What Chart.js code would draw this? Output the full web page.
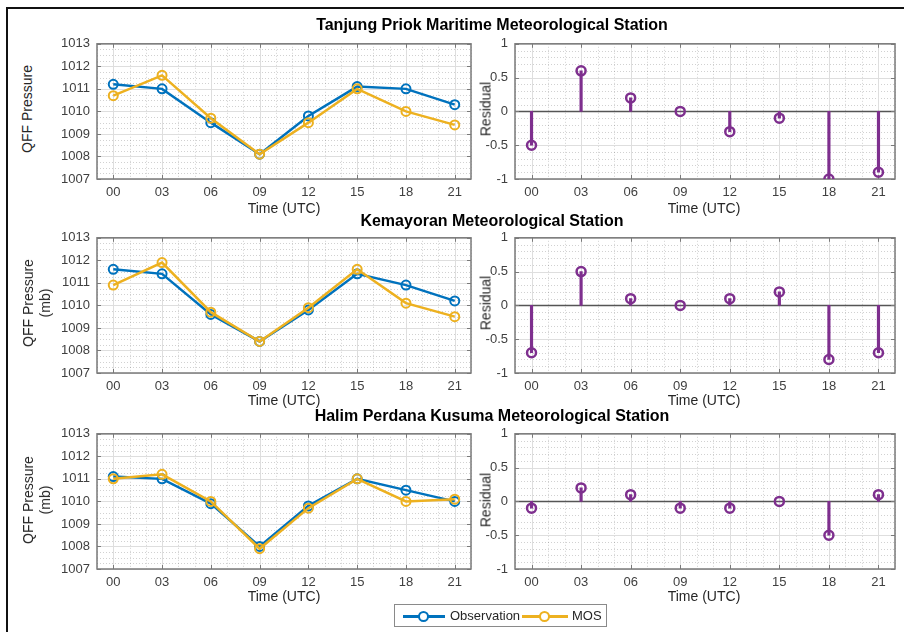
<!DOCTYPE html>
<html>
<head>
<meta charset="utf-8">
<script src="https://cdn.jsdelivr.net/npm/chart.js@4.4.1/dist/chart.umd.min.js"></script>
<style>
body { margin: 0; background: #fff; }
#fig { position: relative; width: 904px; height: 632px; overflow: hidden; background: #fff;
       font-family: "Liberation Sans", Arial, Helvetica, sans-serif; }
#fig canvas { position: absolute; }
.lbl { position: absolute; white-space: nowrap; transform: translate(-50%, -50%); color: #262626; font-size: 14px; }
.rot { transform: translate(-50%, -50%) rotate(-90deg); text-align: center; line-height: 17px; }
.ttl { font-weight: bold; font-size: 16px; color: #000; }
#frameL { position: absolute; left: 6px; top: 8px; width: 1.5px; height: 640px; background: #111; }
#frameT { position: absolute; left: 6px; top: 7px; width: 910px; height: 1.5px; background: #111; }
#legend { position: absolute; left: 394px; top: 604px; width: 211px; height: 21px; border: 1px solid #8a8a8a;
          background: #fff; font-size: 13px; color: #262626; }
#legend .ln { position: absolute; top: 10px; height: 2.5px; }
#legend .mk { position: absolute; top: 6px; width: 7px; height: 7px; border-radius: 50%; border: 2px solid; background: #fff; }
#legend .tx { position: absolute; top: 3px; }
</style>
</head>
<body>
<div id="fig">
  <div id="frameL"></div>
  <div id="frameT"></div>
</div>
<script>
// ---- data ----
var hours = [0, 3, 6, 9, 12, 15, 18, 21];
var hourLabels = ['00', '03', '06', '09', '12', '15', '18', '21'];
var pressureTicks = [1007, 1008, 1009, 1010, 1011, 1012, 1013];
var residualTicks = [-1, -0.5, 0, 0.5, 1];

var stationNames = ['Tanjung Priok Maritime Meteorological Station',
                    'Kemayoran Meteorological Station',
                    'Halim Perdana Kusuma Meteorological Station'];

var obsTanjung = [1011.2, 1011.0, 1009.5, 1008.1, 1009.8, 1011.1, 1011.0, 1010.3];
var mosTanjung = [1010.7, 1011.6, 1009.7, 1008.1, 1009.5, 1011.0, 1010.0, 1009.4];
var resTanjung = [-0.5, 0.6, 0.2, 0.0, -0.3, -0.1, -1.0, -0.9];

var obsKemayoran = [1011.6, 1011.4, 1009.6, 1008.4, 1009.8, 1011.4, 1010.9, 1010.2];
var mosKemayoran = [1010.9, 1011.9, 1009.7, 1008.4, 1009.9, 1011.6, 1010.1, 1009.5];
var resKemayoran = [-0.7, 0.5, 0.1, 0.0, 0.1, 0.2, -0.8, -0.7];

var obsHalim = [1011.1, 1011.0, 1009.9, 1008.0, 1009.8, 1011.0, 1010.5, 1010.0];
var mosHalim = [1011.0, 1011.2, 1010.0, 1007.9, 1009.7, 1011.0, 1010.0, 1010.1];
var resHalim = [-0.1, 0.2, 0.1, -0.1, -0.1, 0.0, -0.5, 0.1];

var seriesNames = ['Observation', 'MOS'];

// ---- styles ----
var blue = '#0072BD', orange = '#EDB120', purple = '#7E2F8E';
var fontFamily = '"Liberation Sans", Arial, Helvetica, sans-serif';
Chart.defaults.font.family = fontFamily;
Chart.defaults.font.size = 13;
Chart.defaults.color = '#404040';

var fig = document.getElementById('fig');

// panel layout (plot area boxes)
var rowTops = [39, 233, 429];
var plotH = 140;
var leftX = [97, 471], rightX = [515, 895];
var padL = 45, padT = 10, padR = 10, padB = 25;

function addLabel(text, cx, cy, cls) {
  var d = document.createElement('div');
  d.className = 'lbl ' + (cls || '');
  d.innerHTML = text;
  d.style.left = cx + 'px';
  d.style.top = cy + 'px';
  fig.appendChild(d);
}

function px(v) { return Math.round(v) + 0.5; }

// MATLAB-like axes: dotted minor grid, solid major grid, box, inner ticks
var matlabAxes = {
  id: 'matlabAxes',
  beforeDatasetsDraw: function (chart, args, opts) {
    var ctx = chart.ctx, a = chart.chartArea, sx = chart.scales.x, sy = chart.scales.y;
    var i, v, p;
    ctx.save();
    ctx.lineWidth = 1;
    // minor grid
    ctx.strokeStyle = 'rgba(0,0,0,0.18)';
    ctx.setLineDash([1, 2]);
    ctx.beginPath();
    for (v = -1; v <= 22; v += 1) {
      if (hours.indexOf(v) >= 0) continue;
      p = px(sx.getPixelForValue(v));
      ctx.moveTo(p, a.top); ctx.lineTo(p, a.bottom);
    }
    var yt = opts.yTicks, step = opts.minorStep;
    for (i = 0; i < yt.length - 1; i++) {
      for (v = yt[i] + step; v < yt[i + 1] - step / 2; v += step) {
        p = px(sy.getPixelForValue(v));
        ctx.moveTo(a.left, p); ctx.lineTo(a.right, p);
      }
    }
    ctx.stroke();
    // major grid
    ctx.setLineDash([]);
    ctx.strokeStyle = '#dedede';
    ctx.beginPath();
    hours.forEach(function (h) {
      p = px(sx.getPixelForValue(h));
      ctx.moveTo(p, a.top); ctx.lineTo(p, a.bottom);
    });
    yt.forEach(function (t) {
      p = px(sy.getPixelForValue(t));
      ctx.moveTo(a.left, p); ctx.lineTo(a.right, p);
    });
    ctx.stroke();
    // zero baseline for stem plots
    if (opts.zeroLine) {
      ctx.strokeStyle = '#555';
      ctx.lineWidth = 1.5;
      p = sy.getPixelForValue(0);
      ctx.beginPath(); ctx.moveTo(a.left, p); ctx.lineTo(a.right, p); ctx.stroke();
    }
    // inner tick marks
    ctx.strokeStyle = '#7a7a7a';
    ctx.lineWidth = 1;
    ctx.beginPath();
    hours.forEach(function (h) {
      p = px(sx.getPixelForValue(h));
      ctx.moveTo(p, a.top); ctx.lineTo(p, a.top + 4);
      ctx.moveTo(p, a.bottom); ctx.lineTo(p, a.bottom - 4);
    });
    yt.forEach(function (t) {
      p = px(sy.getPixelForValue(t));
      ctx.moveTo(a.left, p); ctx.lineTo(a.left + 4, p);
      ctx.moveTo(a.right, p); ctx.lineTo(a.right - 4, p);
    });
    ctx.stroke();
    // box
    ctx.lineWidth = 1.5;
    ctx.strokeStyle = '#7a7a7a';
    ctx.strokeRect(a.left, a.top, a.right - a.left, a.bottom - a.top);
    ctx.restore();
  }
};

function makeCanvas(x0, x1, top) {
  var c = document.createElement('canvas');
  var w = (x1 - x0) + padL + padR, h = plotH + padT + padB;
  c.width = w; c.height = h;
  c.style.width = w + 'px'; c.style.height = h + 'px';
  c.style.left = (x0 - padL) + 'px';
  c.style.top = (top - padT) + 'px';
  fig.appendChild(c);
  return c;
}

function scalesFor(yMin, yMax, yTicks) {
  return {
    x: {
      type: 'linear', min: -1, max: 22, offset: false,
      grid: { display: false, drawTicks: false }, border: { display: false },
      afterBuildTicks: function (s) { s.ticks = hours.map(function (v) { return { value: v }; }); },
      afterFit: function (s) { s.height = padB; },
      ticks: {
        autoSkip: false, maxRotation: 0, padding: 6,
        callback: function (v) { return hourLabels[hours.indexOf(v)]; }
      }
    },
    y: {
      type: 'linear', min: yMin, max: yMax,
      grid: { display: false, drawTicks: false }, border: { display: false },
      afterBuildTicks: function (s) { s.ticks = yTicks.map(function (v) { return { value: v }; }); },
      afterFit: function (s) { s.width = padL; },
      ticks: { padding: 7, callback: function (v) { return String(v); } }
    }
  };
}

function baseOptions(scales, axOpts) {
  return {
    responsive: false, animation: false, events: [],
    layout: { padding: { left: 0, top: padT, right: padR, bottom: 0 } },
    plugins: { legend: { display: false }, tooltip: { enabled: false }, matlabAxes: axOpts },
    scales: scales
  };
}

function xy(vals) {
  return hours.map(function (h, i) { return { x: h, y: vals[i] }; });
}

function pressureChart(top, obs, mos) {
  var c = makeCanvas(leftX[0], leftX[1], top);
  new Chart(c, {
    type: 'line',
    data: {
      datasets: [
        { label: seriesNames[0], data: xy(obs), borderColor: blue, borderWidth: 2.5,
          pointRadius: 4.5, pointBorderWidth: 2, pointBorderColor: blue,
          pointBackgroundColor: 'rgba(255,255,255,0)', order: 2 },
        { label: seriesNames[1], data: xy(mos), borderColor: orange, borderWidth: 2.5,
          pointRadius: 4.5, pointBorderWidth: 2, pointBorderColor: orange,
          pointBackgroundColor: 'rgba(255,255,255,0)', order: 1 }
      ]
    },
    options: baseOptions(scalesFor(1007, 1013, pressureTicks),
                         { yTicks: pressureTicks, minorStep: 0.25, zeroLine: false }),
    plugins: [matlabAxes]
  });
}

function residualChart(top, res) {
  var c = makeCanvas(rightX[0], rightX[1], top);
  new Chart(c, {
    type: 'bar',
    data: {
      datasets: [
        { type: 'line', label: 'Residual', data: xy(res), showLine: false,
          pointRadius: 4.5, pointBorderWidth: 2.5, pointBorderColor: purple,
          pointBackgroundColor: 'rgba(255,255,255,0)', order: 1 },
        { type: 'bar', label: 'stem', data: hours.map(function (h, i) { return { x: h, y: [0, res[i]] }; }),
          backgroundColor: purple, borderWidth: 0, barThickness: 2.5, order: 2 }
      ]
    },
    options: baseOptions(scalesFor(-1, 1, residualTicks),
                         { yTicks: residualTicks, minorStep: 0.1, zeroLine: true }),
    plugins: [matlabAxes]
  });
}

var obsAll = [obsTanjung, obsKemayoran, obsHalim];
var mosAll = [mosTanjung, mosKemayoran, mosHalim];
var resAll = [resTanjung, resKemayoran, resHalim];
var titleY = [25, 221, 416];
var timeLabelY = [208, 400, 596];
var yLabelCY = [109, 303, 500];

for (var r = 0; r < 3; r++) {
  pressureChart(rowTops[r], obsAll[r], mosAll[r]);
  residualChart(rowTops[r], resAll[r]);
  addLabel(stationNames[r], 492, titleY[r], 'ttl');
  addLabel('Time (UTC)', 284, timeLabelY[r]);
  addLabel('Time (UTC)', 704, timeLabelY[r]);
  if (r === 0) addLabel('QFF Pressure', 27, yLabelCY[r], 'rot');
  else addLabel('QFF Pressure<br>(mb)', 37, yLabelCY[r], 'rot');
  addLabel('Residual', 486, yLabelCY[r], 'rot');
}

// legend
var lg = document.createElement('div');
lg.id = 'legend';
lg.innerHTML =
  '<div class="ln" style="left:8px;width:42px;background:' + blue + '"></div>' +
  '<div class="mk" style="left:23px;border-color:' + blue + '"></div>' +
  '<div class="tx" style="left:55px">' + seriesNames[0] + '</div>' +
  '<div class="ln" style="left:127px;width:46px;background:' + orange + '"></div>' +
  '<div class="mk" style="left:144px;border-color:' + orange + '"></div>' +
  '<div class="tx" style="left:177px">' + seriesNames[1] + '</div>';
fig.appendChild(lg);
</script>
</body>
</html>
